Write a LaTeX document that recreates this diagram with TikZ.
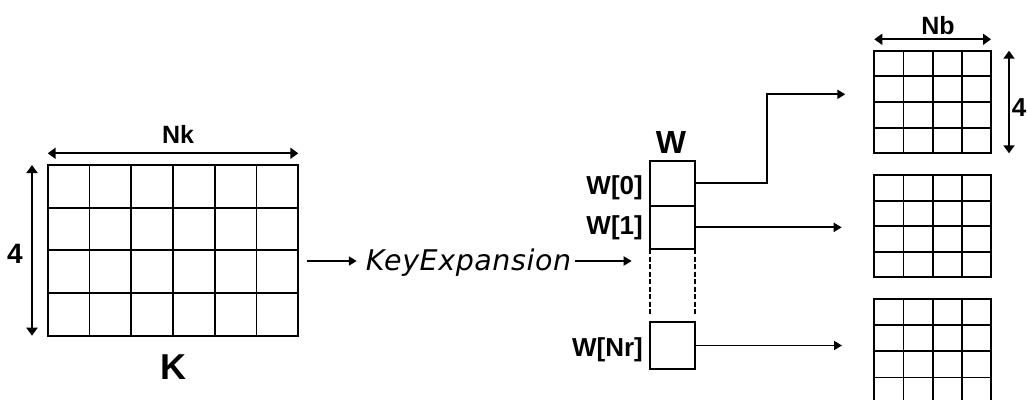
\documentclass[tikz,border=0pt]{standalone}
\usepackage{fontspec}
\setmainfont{Liberation Sans}
\newfontfamily\kefont[LetterSpace=2]{DejaVu Sans}
\usetikzlibrary{arrows.meta,calc}
\tikzset{
  ln/.style={line width=1.9pt},
  arr/.style={ln, -{Triangle[length=8pt,width=9pt]}},
  dimarr/.style={ln, {Triangle[length=8pt,width=11pt]}-{Triangle[length=8pt,width=11pt]}},
  gridbox/.style={draw, ln, inner sep=0pt, outer sep=0pt, anchor=north west},
  cellbox/.style={gridbox, minimum width=45pt},
  lbl/.style={inner sep=0pt, anchor=base, font=\bfseries\fontsize{25}{27}\selectfont},
  wlbl/.style={inner sep=0pt, anchor=base east, font=\bfseries\fontsize{26}{28}\selectfont},
  kelbl/.style={inner sep=0pt, anchor=base, font=\kefont\itshape\fontsize{28.5}{30}\selectfont}
}
\begin{document}
\begin{tikzpicture}[x=1pt,y=-1pt]
\useasboundingbox (0,0) rectangle (1027,399);
\clip (0,0) rectangle (1027,399);
% K matrix
\node[gridbox, minimum width=250.6pt, minimum height=170.7pt] (kgrid) at (47.7,165) {};
\foreach \i in {1,...,5}
  \draw[ln] ($(kgrid.north west)!\i/6!(kgrid.north east)$) -- ($(kgrid.south west)!\i/6!(kgrid.south east)$);
\foreach \i in {1,2,3}
  \draw[ln] ($(kgrid.north west)!\i/4!(kgrid.south west)$) -- ($(kgrid.north east)!\i/4!(kgrid.south east)$);
\draw[dimarr] ([yshift=11.7pt]kgrid.north west) -- ([yshift=11.7pt]kgrid.north east);
\draw[dimarr] ([xshift=-15.7pt]kgrid.north west) -- ([xshift=-15.7pt]kgrid.south west);
\node[lbl] (nk) at (178,143.3) {Nk};
\node[lbl, font=\bfseries\fontsize{28}{30}\selectfont] (four1) at (15,263) {4};
\node[lbl, font=\bfseries\fontsize{36}{38}\selectfont] (klbl) at (173,379.3) {K};
% Key expansion
\coordinate (kin) at (307,261);
\node[kelbl] (ke) at (468.5,270) {KeyExpansion};
% W column
\node[cellbox, minimum height=44.7pt] (w0) at (650,161) {};
\node[cellbox, minimum height=43.3pt] (w1) at (650,205.7) {};
\node[inner sep=0pt, outer sep=0pt, anchor=north west, minimum width=45pt, minimum height=72.7pt] (wdots) at (650,249) {};
\node[cellbox, minimum height=47.6pt] (wnr) at (650,321.7) {};
\draw[line width=1.2pt, dash pattern=on 5pt off 2.5pt] (wdots.north west) -- ([yshift=6pt]wdots.south west);
\draw[line width=1.2pt, dash pattern=on 5pt off 2.5pt] (wdots.north east) -- ([yshift=6pt]wdots.south east);
\node[lbl, font=\bfseries\fontsize{32}{34}\selectfont] (wtitle) at (671,153) {W};
\node[wlbl] (wl0) at (643,194) {W[0]};
\node[wlbl] (wl1) at (643,234) {W[1]};
\node[wlbl] (wlnr) at (643,356) {W[Nr]};
\draw[arr, shorten >=9pt] (kin) -- (kin -| ke.west);
\draw[arr, shorten <=4pt, shorten >=18.3pt] (ke.east |- kin) -- (kin -| wdots.west);
% Round key matrices
\node[gridbox, minimum width=116.7pt, minimum height=102.6pt] (g1) at (874.3,50.7) {};
\node[gridbox, minimum width=116.7pt, minimum height=102.3pt] (g2) at (874.3,175) {};
\node[gridbox, minimum width=116.7pt, minimum height=104.7pt] (g3) at (874.3,299) {};
\foreach \g in {g1,g2,g3}{
  \foreach \i in {1,2,3}{
    \draw[ln] ($(\g.north west)!\i/4!(\g.north east)$) -- ($(\g.south west)!\i/4!(\g.south east)$);
    \draw[ln] ($(\g.north west)!\i/4!(\g.south west)$) -- ($(\g.north east)!\i/4!(\g.south east)$);
  }
}
\draw[dimarr] ([yshift=11.4pt]g1.north west) -- ([yshift=11.4pt]g1.north east);
\draw[dimarr] ([xshift=18pt]g1.north east) -- ([xshift=18pt]g1.south east);
\node[lbl] (nb) at (938,34) {Nb};
\node[lbl, font=\bfseries\fontsize{26}{28}\selectfont] (four2) at (1019.2,116.7) {4};
% connectors W -> round keys
\coordinate (bend) at (766.7,94.3);
\draw[arr, shorten >=29pt] (w0.east) -| (bend) -- (bend -| g1.west);
\draw[arr, shorten >=32.6pt] (w1.east) -- (w1.east -| g2.west);
\draw[arr, shorten >=32.3pt] (wnr.east) -- (wnr.east -| g3.west);
\end{tikzpicture}
\end{document}
